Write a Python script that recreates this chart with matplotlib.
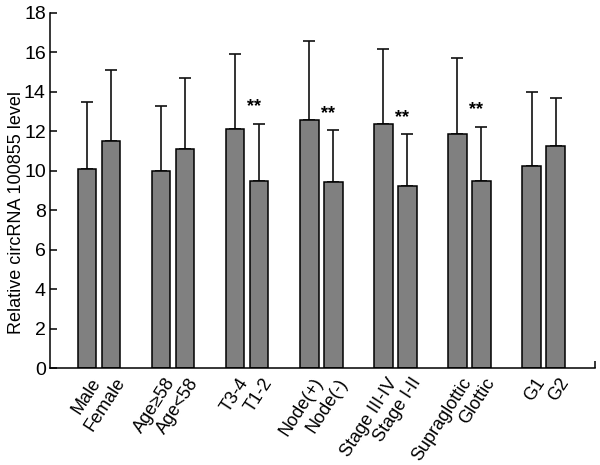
import matplotlib
matplotlib.use("Agg")
import matplotlib.pyplot as plt
import matplotlib.transforms as mtransforms
import numpy as np

plt.rcParams['font.family'] = ['Liberation Sans', 'DejaVu Sans']

labels = ["Male", "Female", "Age\u226558", "Age<58", "T3-4", "T1-2",
          "Node(+)", "Node(-)", "Stage III-IV", "Stage I-II",
          "Supraglottic", "Glottic", "G1", "G2"]
means = [10.1, 11.48, 9.97, 11.1, 12.12, 9.47, 12.55, 9.4, 12.37, 9.22,
         11.86, 9.47, 10.23, 11.24]
err_top = [13.5, 15.12, 13.25, 14.68, 15.89, 12.37, 16.57, 12.05, 16.14, 11.86,
           15.7, 12.23, 14.0, 13.69]
significant = [False, False, False, False, False, True, False, True, False, True,
               False, True, False, False]

means = np.array(means)
err = np.array(err_top) - means

n_groups = len(labels) // 2
offset = 0.162
width = 0.25
xpos = np.array([g + s * offset for g in range(n_groups) for s in (-1, 1)])

fig = plt.figure(figsize=(6.0, 4.65), dpi=100)
ax = fig.add_axes([50/600, 1 - 368/465, 545/600, (368 - 12.7)/465])

ax.bar(xpos, means, width=width, color="#808080", edgecolor="black", linewidth=1.1, zorder=2)
ax.errorbar(xpos, means, yerr=[np.zeros_like(err), err], fmt="none", ecolor="#111111",
            elinewidth=1.2, capsize=4, capthick=1.2, zorder=1)

for x, t, s in zip(xpos, err_top, significant):
    if s:
        ax.text(x - 0.07, t + 0.85, "**", ha="center", va="center", fontsize=13,
                fontweight="bold")

ax.set_xlim(-0.661, 6.694)
ax.set_ylim(0, 18)
ax.set_yticks(np.arange(0, 19, 2))
ax.tick_params(axis="y", direction="in", length=5, width=1.1, labelsize=14, pad=3)
ax.set_xticks(xpos)
ax.set_xticklabels(labels, rotation=57, ha="right", va="top", rotation_mode="anchor",
                   fontsize=13)
ax.tick_params(axis="x", length=0, pad=5)
shift = mtransforms.ScaledTranslation(3/100, 0, fig.dpi_scale_trans)
for lab in ax.get_xticklabels():
    lab.set_transform(lab.get_transform() + shift)
ax.set_xticks([6.694], minor=True)
ax.tick_params(axis="x", which="minor", direction="in", length=5, width=1.1)

for sp in ("top", "right"):
    ax.spines[sp].set_visible(False)
for sp in ("left", "bottom"):
    ax.spines[sp].set_linewidth(1.1)

ax.set_ylabel("Relative circRNA 100855 level", fontsize=13)
ax.yaxis.set_label_coords(-0.045, 0.437)

fig.savefig("out.png", dpi=100)
